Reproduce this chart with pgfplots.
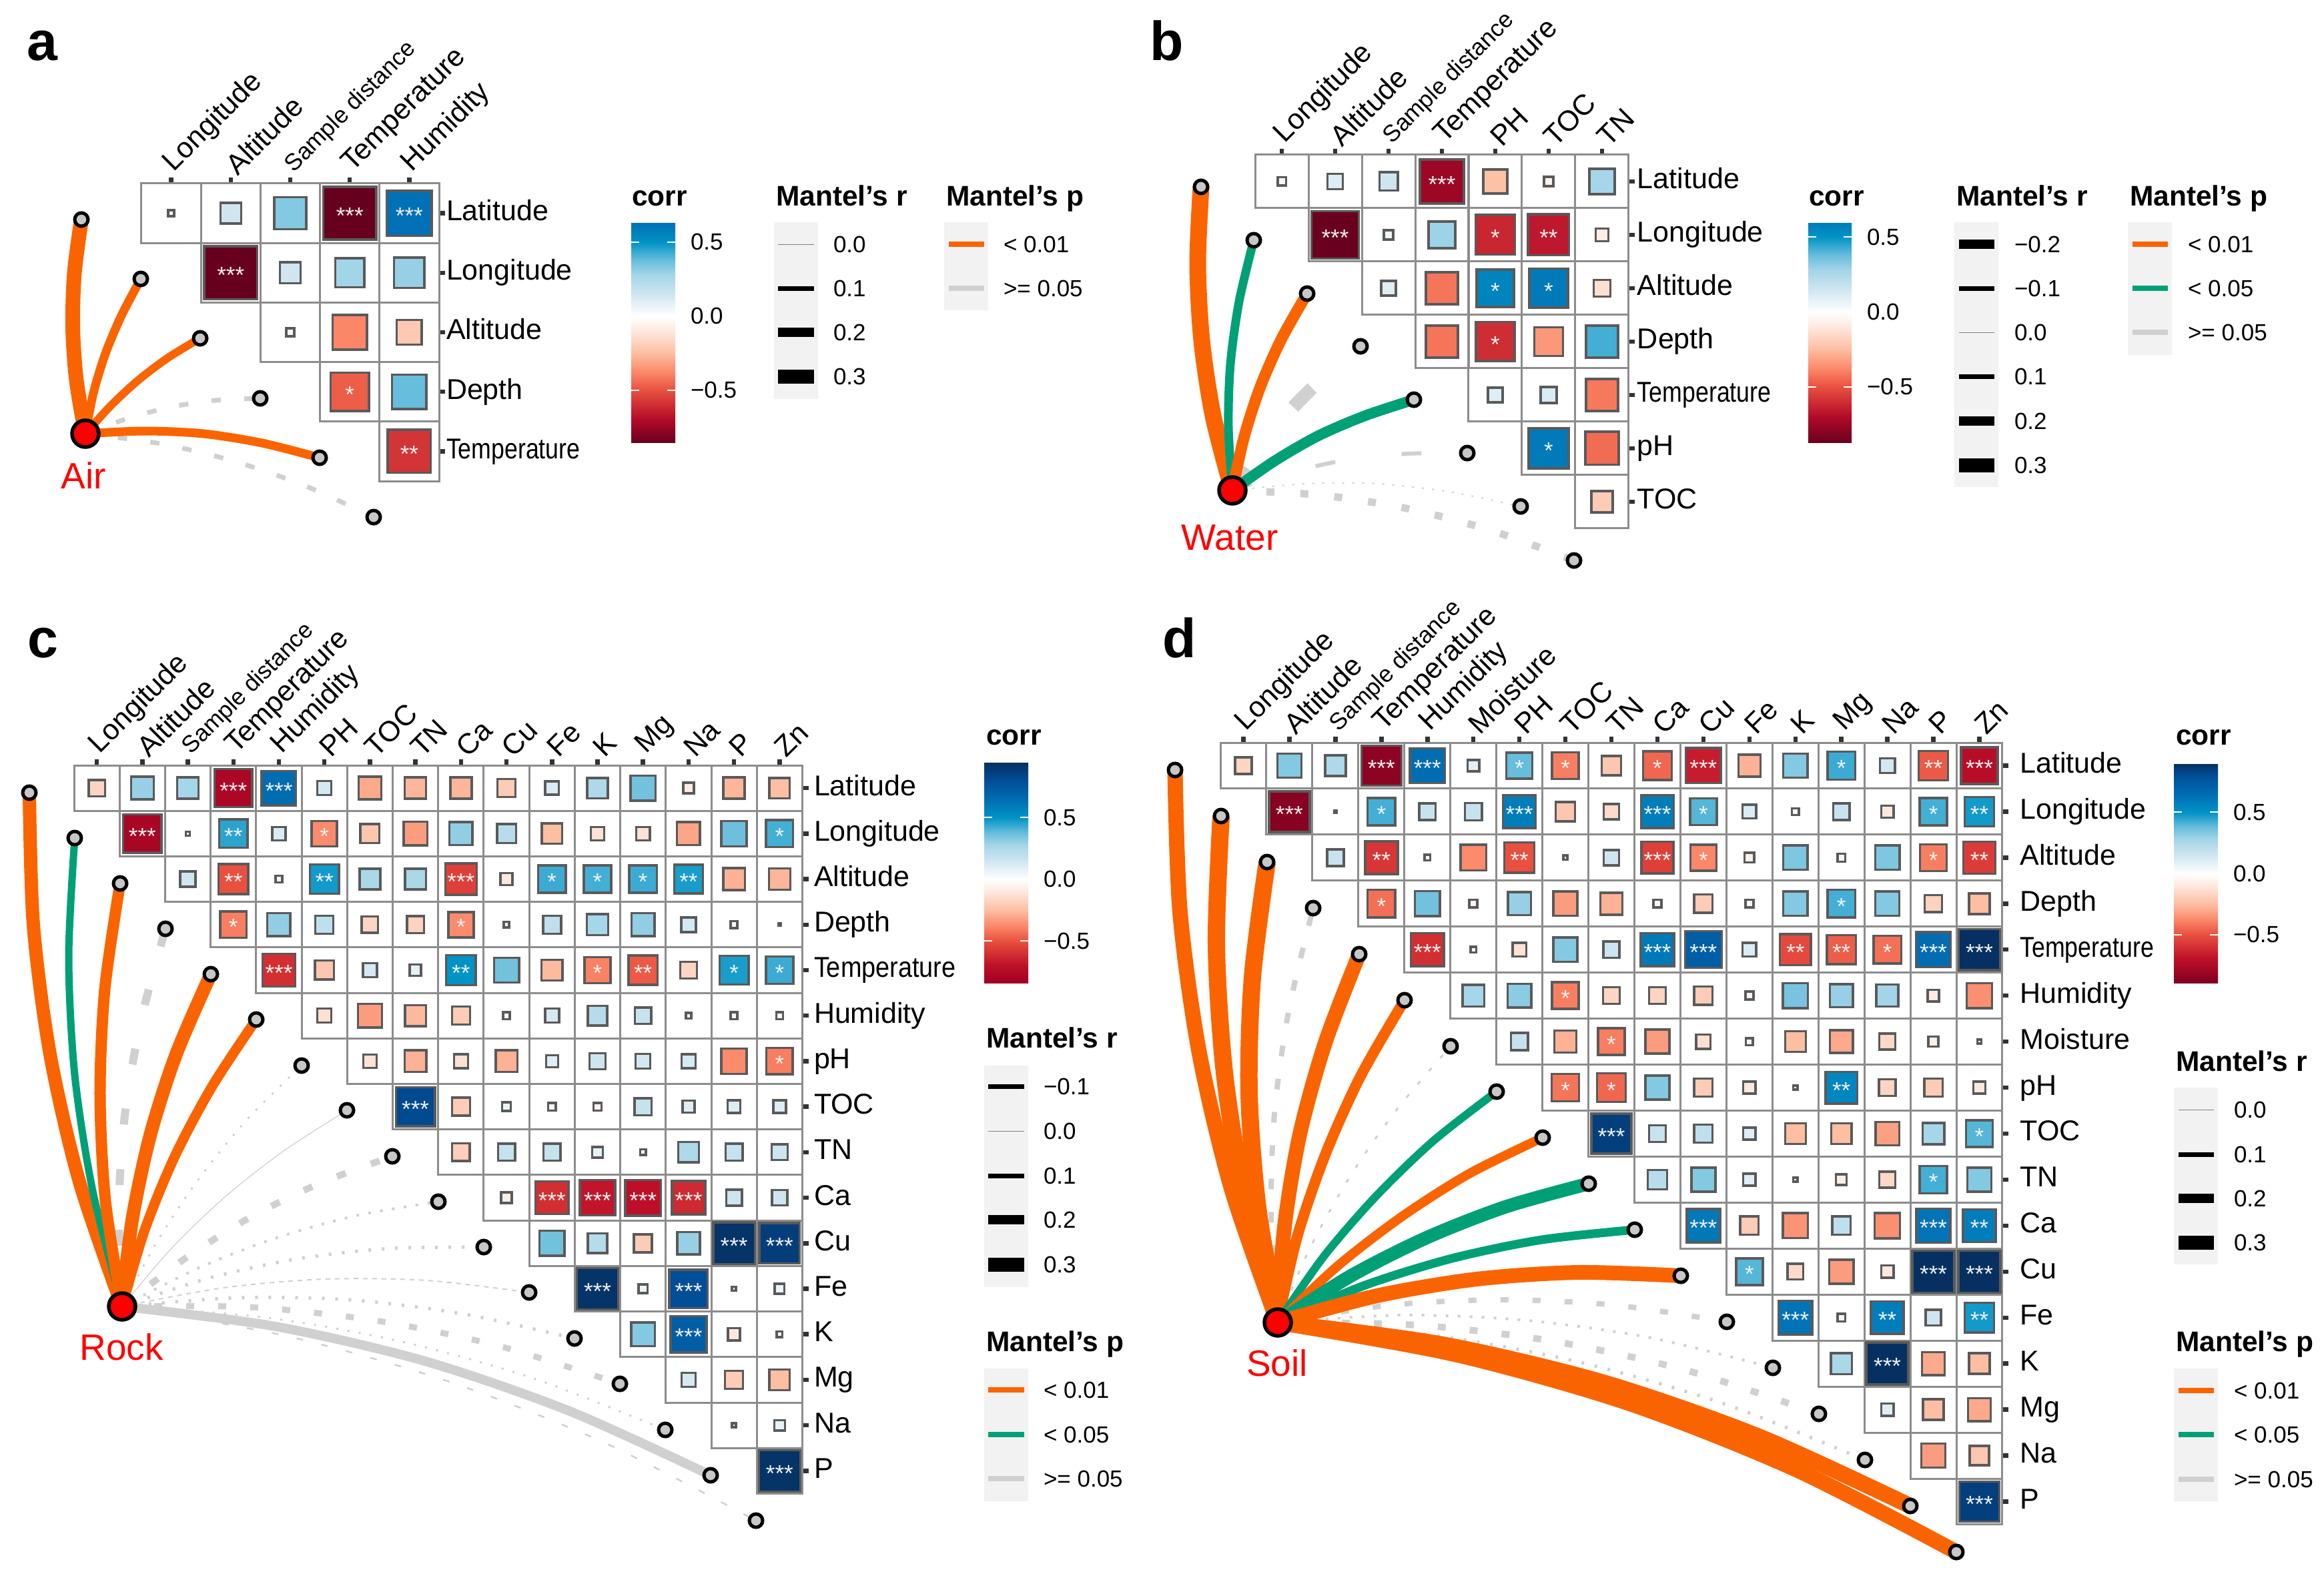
\documentclass[border=0pt]{standalone}
\usepackage{fontspec}
\setmainfont[Ligatures=ResetAll]{Liberation Sans}
\usepackage{pgfplots}
\usepackage{pgfplotstable}
\pgfplotsset{compat=1.18}
% picture scale: 1 reference pixel = 0.2pt
\definecolor{lorange}{RGB}{250,100,0}
\definecolor{lgreen}{RGB}{0,160,119}
\definecolor{lgray}{RGB}{208,208,208}
\definecolor{keybg}{RGB}{242,242,242}
\definecolor{cellgrid}{RGB}{140,140,140}
\definecolor{cellline}{RGB}{90,90,90}
\newcommand{\lfont}{\fontsize{7}{8}\selectfont}
\newcommand{\tfont}{\fontsize{8.5}{10}\selectfont\bfseries}

% colour scales, position = (r+1)*100
\pgfplotsset{
  colormap={mapA}{rgb255(14.4pt)=(103,0,31); rgb255(30pt)=(178,10,40); rgb255(50pt)=(233,80,63); rgb255(62pt)=(251,135,104); rgb255(75pt)=(253,190,162); rgb255(90pt)=(254,232,222); rgb255(100pt)=(255,255,255); rgb255(115pt)=(207,230,241); rgb255(128pt)=(163,213,232); rgb255(138pt)=(102,189,220); rgb255(150pt)=(0,147,198); rgb255(163.5pt)=(0,112,181)},
  colormap={mapB}{rgb255(12.6pt)=(103,0,31); rgb255(30pt)=(178,10,40); rgb255(50pt)=(233,80,63); rgb255(62pt)=(251,135,104); rgb255(75pt)=(253,190,162); rgb255(90pt)=(254,232,222); rgb255(100pt)=(255,255,255); rgb255(115pt)=(207,230,241); rgb255(128pt)=(163,213,232); rgb255(138pt)=(102,189,220); rgb255(150pt)=(0,147,198); rgb255(159.8pt)=(0,122,185)},
  colormap={mapC}{rgb255(15.6pt)=(160,0,36); rgb255(30pt)=(190,15,40); rgb255(50pt)=(233,80,63); rgb255(62pt)=(251,135,104); rgb255(75pt)=(253,190,162); rgb255(90pt)=(254,232,222); rgb255(100pt)=(255,255,255); rgb255(115pt)=(207,230,241); rgb255(128pt)=(163,213,232); rgb255(138pt)=(102,189,220); rgb255(150pt)=(0,147,198); rgb255(163.5pt)=(0,112,181); rgb255(180pt)=(0,78,152); rgb255(194.8pt)=(5,48,97)},
  colormap={mapD}{rgb255(10pt)=(125,0,32); rgb255(30pt)=(190,15,40); rgb255(50pt)=(233,80,63); rgb255(62pt)=(251,135,104); rgb255(75pt)=(253,190,162); rgb255(90pt)=(254,232,222); rgb255(100pt)=(255,255,255); rgb255(115pt)=(207,230,241); rgb255(128pt)=(163,213,232); rgb255(138pt)=(102,189,220); rgb255(150pt)=(0,147,198); rgb255(163.5pt)=(0,112,181); rgb255(180pt)=(0,78,152); rgb255(190pt)=(5,48,97)},
  corrpanel/.style={
    scale only axis, clip=false, anchor=north west,
    y dir=reverse, enlargelimits=false,
    axis line style={draw=none},
    xtick pos=upper, xticklabel pos=upper,
    ytick pos=right, yticklabel pos=right,
    tick align=outside, major tick length=1.8pt,
    tick style={color=black!80, line width=1.3pt},
    x tick label style={rotate=45, anchor=south west, font=\fontsize{8.6}{10}\selectfont, inner sep=0.5pt, xshift=1pt, yshift=-2pt},
    y tick label style={anchor=west, font=\fontsize{8.6}{10}\selectfont, inner sep=0.5pt, text height=6.2pt, text depth=1.8pt, xshift=#1pt},
    colorbar right,
    colorbar shift/.style={},
    unbounded coords=discard,
  },
  barstyle/.style n args={4}{
    at={(parent axis.north west)}, anchor=north west,
    xshift=#1pt, yshift=#2pt, width=#3pt, height=#4pt,
    axis line style={draw=none},
    ytick={-0.5,0,0.5}, yticklabels={−0.5,0.0,0.5},
    ytick pos=both, yticklabel pos=right, tick align=inside,
    major tick length=2.4pt,
    tick style={draw=white, line width=0.35pt},
    y tick label style={font=\lfont, anchor=west, inner sep=0pt, xshift=4.4pt},
  },
  cellgridplot/.style={only marks, mark=square, mark size=#1pt, mark options={draw=cellgrid, line width=0.6pt}},
  cellplot/.style={
    only marks, scatter, scatter src=explicit, mark=square*,
    scatter/use mapped color={draw=cellline, fill=mapped color},
    mark options={line width=0.7pt},
    visualization depends on={0.1*max(sqrt(abs(\thisrow{v}))*#1-3.5,1)\as\sz},
    scatter/@pre marker code/.append style={/tikz/mark size=\sz},
  },
  starplot/.style={only marks, mark=text, text mark={#1}, text mark as node=true,
    text mark style={font=\fontsize{7}{8}\selectfont, text=black!6, inner sep=0pt, yshift=-0.8pt}},
  endpts/.style={only marks, mark=*, mark size=2pt, mark options={fill=black!22, draw=black, line width=1pt}},
  hubpt/.style={only marks, mark=*, mark size=4pt, mark options={fill=red, draw=black, line width=1.1pt}},
}
\newcommand{\stars}[1]{%
  \addplot[starplot={*}] table[x=c,y expr={\thisrow{n}==1 ? \thisrow{r} : nan}] {#1};
  \addplot[starplot={**}] table[x=c,y expr={\thisrow{n}==2 ? \thisrow{r} : nan}] {#1};
  \addplot[starplot={***}] table[x=c,y expr={\thisrow{n}==3 ? \thisrow{r} : nan}] {#1};
}
\newcommand{\link}[4]{\addplot[smooth,color=#1,line width=#2pt,#3] coordinates {#4};}
\newcommand{\keyline}[5]{\addplot[color=#5,line width=#4pt] coordinates {(#1,#3)(#2,#3)};}
\newcommand{\keylab}[3]{\node[anchor=west,font=\lfont,inner sep=0pt] at (#1,#2) {#3};}
\newcommand{\ttl}[3]{\node[anchor=base west,font=\tfont,inner sep=0pt] at (#1,#2) {#3};}
\newcommand{\pnl}[3]{\node[anchor=base,font=\fontsize{16.5}{18}\selectfont\bfseries,inner sep=0pt] at (#1,#2) {#3};}
\newcommand{\hubname}[3]{\node[anchor=base,text=red,font=\fontsize{11}{12}\selectfont,inner sep=0pt] at (#1,#2) {#3};}

\pgfplotstableread[row sep=\\]{c r v n\\
0 0 0.02 0\\ 1 0 0.15 0\\ 2 0 0.33 0\\ 3 0 -0.86 3\\ 4 0 0.63 3\\
1 1 -0.86 3\\ 2 1 0.15 0\\ 3 1 0.28 0\\ 4 1 0.3 0\\
2 2 0.03 0\\ 3 2 -0.38 0\\ 4 2 -0.21 0\\
3 3 -0.47 1\\ 4 3 0.38 0\\
4 4 -0.58 2\\
}\tabA

\pgfplotstableread[row sep=\\]{c r v n\\
0 0 0.04 0\\ 1 0 0.11 0\\ 2 0 0.15 0\\ 3 0 -0.75 3\\ 4 0 -0.24 0\\ 5 0 -0.05 0\\ 6 0 0.27 0\\
1 1 -0.87 3\\ 2 1 0.05 0\\ 3 1 0.29 0\\ 4 1 -0.62 1\\ 5 1 -0.66 2\\ 6 1 -0.08 0\\
2 2 0.1 0\\ 3 2 -0.42 0\\ 4 2 0.56 1\\ 5 2 0.6 1\\ 6 2 -0.13 0\\
3 3 -0.42 0\\ 4 3 -0.6 1\\ 5 3 -0.34 0\\ 6 3 0.42 0\\
4 4 0.1 0\\ 5 4 0.12 0\\ 6 4 -0.41 0\\
5 5 0.63 1\\ 6 5 -0.44 0\\
6 6 -0.2 0\\
}\tabB

\pgfplotstableread[row sep=\\]{c r v n\\
0 0 -0.17 0\\ 1 0 0.3 0\\ 2 0 0.27 0\\ 3 0 -0.78 3\\ 4 0 0.65 3\\ 5 0 0.13 0\\ 6 0 -0.3 0\\ 7 0 -0.27 0\\ 8 0 -0.27 0\\ 9 0 -0.2 0\\ 10 0 0.12 0\\ 11 0 0.25 0\\ 12 0 0.36 0\\ 13 0 -0.08 0\\ 14 0 -0.27 0\\ 15 0 -0.25 0\\
1 1 -0.8 3\\ 2 1 0.02 0\\ 3 1 0.45 2\\ 4 1 0.12 0\\ 5 1 -0.37 1\\ 6 1 -0.22 0\\ 7 1 -0.33 0\\ 8 1 0.31 0\\ 9 1 0.22 0\\ 10 1 -0.25 0\\ 11 1 -0.12 0\\ 12 1 -0.12 0\\ 13 1 -0.31 0\\ 14 1 0.37 0\\ 15 1 0.42 1\\
2 2 0.15 0\\ 3 2 -0.5 2\\ 4 2 -0.04 0\\ 5 2 0.48 2\\ 6 2 0.26 0\\ 7 2 0.26 0\\ 8 2 -0.55 3\\ 9 2 -0.1 0\\ 10 2 0.43 1\\ 11 2 0.42 1\\ 12 2 0.43 1\\ 13 2 0.47 2\\ 14 2 -0.28 0\\ 15 2 -0.27 0\\
3 3 -0.4 1\\ 4 3 0.31 0\\ 5 3 0.2 0\\ 6 3 -0.17 0\\ 7 3 -0.18 0\\ 8 3 -0.37 1\\ 9 3 0.03 0\\ 10 3 0.2 0\\ 11 3 0.27 0\\ 12 3 0.31 0\\ 13 3 0.14 0\\ 14 3 0.04 0\\ 15 3 0.01 0\\
4 4 -0.6 3\\ 5 4 -0.22 0\\ 6 4 0.13 0\\ 7 4 0.09 0\\ 8 4 0.5 2\\ 9 4 0.36 0\\ 10 4 -0.26 0\\ 11 4 -0.39 1\\ 12 4 -0.48 2\\ 13 4 -0.17 0\\ 14 4 0.47 1\\ 15 4 0.43 1\\
5 5 -0.13 0\\ 6 5 -0.33 0\\ 7 5 -0.26 0\\ 8 5 -0.2 0\\ 9 5 0.04 0\\ 10 5 0.13 0\\ 11 5 0.23 0\\ 12 5 0.17 0\\ 13 5 0.03 0\\ 14 5 0.04 0\\ 15 5 0.04 0\\
6 6 -0.12 0\\ 7 6 -0.28 0\\ 8 6 -0.13 0\\ 9 6 -0.28 0\\ 10 6 0.1 0\\ 11 6 0.16 0\\ 12 6 0.14 0\\ 13 6 0.13 0\\ 14 6 -0.37 0\\ 15 6 -0.4 1\\
7 7 0.82 3\\ 8 7 -0.2 0\\ 9 7 0.06 0\\ 10 7 -0.05 0\\ 11 7 -0.05 0\\ 12 7 0.18 0\\ 13 7 0.1 0\\ 14 7 0.11 0\\ 15 7 0.11 0\\
8 8 -0.19 0\\ 9 8 0.18 0\\ 10 8 0.18 0\\ 11 8 0.08 0\\ 12 8 -0.03 0\\ 13 8 0.25 0\\ 14 8 0.18 0\\ 15 8 0.16 0\\
9 9 -0.08 0\\ 10 9 -0.6 3\\ 11 9 -0.68 3\\ 12 9 -0.7 3\\ 13 9 -0.62 3\\ 14 9 0.16 0\\ 15 9 0.15 0\\
10 10 0.36 0\\ 11 10 0.23 0\\ 12 10 -0.2 0\\ 13 10 0.3 0\\ 14 10 0.93 3\\ 15 10 0.88 3\\
11 11 0.93 3\\ 12 11 0.06 0\\ 13 11 0.8 3\\ 14 11 0.02 0\\ 15 11 0.07 0\\
12 12 0.33 0\\ 13 12 0.72 3\\ 14 12 -0.1 0\\ 15 12 0.03 0\\
13 13 0.13 0\\ 14 13 -0.2 0\\ 15 13 -0.25 0\\
14 14 0.02 0\\ 15 14 0.08 0\\
15 15 0.93 3\\
}\tabC

\pgfplotstableread[row sep=\\]{c r v n\\
0 0 -0.17 0\\ 1 0 0.33 0\\ 2 0 0.25 0\\ 3 0 -0.85 3\\ 4 0 0.65 3\\ 5 0 0.09 0\\ 6 0 0.38 1\\ 7 0 -0.4 1\\ 8 0 -0.22 0\\ 9 0 -0.45 1\\ 10 0 -0.66 3\\ 11 0 -0.28 0\\ 12 0 0.33 0\\ 13 0 0.43 1\\ 14 0 0.14 0\\ 15 0 -0.48 2\\ 16 0 -0.72 3\\
1 1 -0.87 3\\ 2 1 0.01 0\\ 3 1 0.42 1\\ 4 1 0.17 0\\ 5 1 0.18 0\\ 6 1 0.58 3\\ 7 1 -0.22 0\\ 8 1 -0.15 0\\ 9 1 0.58 3\\ 10 1 0.4 1\\ 11 1 0.12 0\\ 12 1 -0.04 0\\ 13 1 0.17 0\\ 14 1 -0.1 0\\ 15 1 0.42 1\\ 16 1 0.48 2\\
2 2 0.17 0\\ 3 2 -0.58 2\\ 4 2 -0.03 0\\ 5 2 -0.37 0\\ 6 2 -0.5 2\\ 7 2 -0.02 0\\ 8 2 0.15 0\\ 9 2 -0.55 3\\ 10 2 -0.38 1\\ 11 2 -0.07 0\\ 12 2 0.34 0\\ 13 2 0.05 0\\ 14 2 0.34 0\\ 15 2 -0.4 1\\ 16 2 -0.56 2\\
3 3 -0.43 1\\ 4 3 0.36 0\\ 5 3 -0.05 0\\ 6 3 0.3 0\\ 7 3 -0.33 0\\ 8 3 -0.28 0\\ 9 3 -0.05 0\\ 10 3 -0.2 0\\ 11 3 0.05 0\\ 12 3 0.33 0\\ 13 3 0.42 1\\ 14 3 0.33 0\\ 15 3 -0.18 0\\ 16 3 -0.25 0\\
4 4 -0.6 3\\ 5 4 0.03 0\\ 6 4 -0.12 0\\ 7 4 0.33 0\\ 8 4 0.16 0\\ 9 4 0.6 3\\ 10 4 0.72 3\\ 11 4 0.12 0\\ 12 4 -0.52 2\\ 13 4 -0.47 2\\ 14 4 -0.43 1\\ 15 4 0.65 3\\ 16 4 0.9 3\\
5 5 0.27 0\\ 6 5 0.32 0\\ 7 5 -0.4 1\\ 8 5 -0.17 0\\ 9 5 -0.17 0\\ 10 5 -0.2 0\\ 11 5 -0.05 0\\ 12 5 0.35 0\\ 13 5 0.3 0\\ 14 5 0.28 0\\ 15 5 -0.09 0\\ 16 5 -0.36 0\\
6 6 0.18 0\\ 7 6 -0.28 0\\ 8 6 -0.4 1\\ 9 6 -0.33 0\\ 10 6 -0.13 0\\ 11 6 -0.04 0\\ 12 6 -0.25 0\\ 13 6 -0.3 0\\ 14 6 -0.16 0\\ 15 6 -0.07 0\\ 16 6 -0.02 0\\
7 7 -0.42 1\\ 8 7 -0.45 1\\ 9 7 0.33 0\\ 10 7 -0.2 0\\ 11 7 -0.1 0\\ 12 7 -0.02 0\\ 13 7 0.55 2\\ 14 7 -0.17 0\\ 15 7 -0.2 0\\ 16 7 -0.1 0\\
8 8 0.85 3\\ 9 8 0.17 0\\ 10 8 0.2 0\\ 11 8 0.1 0\\ 12 8 -0.25 0\\ 13 8 -0.25 0\\ 14 8 -0.32 0\\ 15 8 0.27 0\\ 16 8 0.4 1\\
9 9 0.22 0\\ 10 9 0.33 0\\ 11 9 0.1 0\\ 12 9 0.02 0\\ 13 9 -0.08 0\\ 14 9 -0.16 0\\ 15 9 0.42 1\\ 16 9 0.33 0\\
10 10 0.6 3\\ 11 10 -0.2 0\\ 12 10 -0.35 0\\ 13 10 0.2 0\\ 14 10 -0.36 0\\ 15 10 0.62 3\\ 16 10 0.58 2\\
11 11 0.4 1\\ 12 11 -0.15 0\\ 13 11 -0.33 0\\ 14 11 -0.1 0\\ 15 11 0.93 3\\ 16 11 0.93 3\\
12 12 0.62 3\\ 13 12 -0.05 0\\ 14 12 0.58 2\\ 15 12 0.15 0\\ 16 12 0.48 2\\
13 13 0.26 0\\ 14 13 0.93 3\\ 15 13 -0.3 0\\ 16 13 -0.25 0\\
14 14 0.1 0\\ 15 14 -0.25 0\\ 16 14 -0.3 0\\
15 15 -0.33 0\\ 16 15 -0.22 0\\
16 16 0.85 3\\
}\tabD

\begin{document}
\begin{tikzpicture}
\useasboundingbox (0,0) rectangle (696.6pt,471.2pt);
% page-wide axis in reference pixels: link curves, nodes, keys and captions
\begin{axis}[at={(0,0)}, anchor=south west, scale only axis, width=696.6pt, height=471.2pt,
  xmin=0, xmax=3483, ymin=0, ymax=2356, y dir=reverse, hide axis, clip=false]
\pnl{63}{90}{a}
\pnl{1749}{90}{b}
\pnl{64}{985}{c}
\pnl{1768}{985}{d}

% panel a
\link{lgray}{1.4}{dash pattern=on 2.8pt off 7pt}{(128,650)(192,627)(256,610)(323,600)(390,597)}
\link{lgray}{1.4}{dash pattern=on 2.8pt off 7pt}{(128,650)(241,665)(350,691)(457,728)(560,775)}
\link{lorange}{4.4}{}{(128,650)(114.5,570)(109,490)(111.5,409)(122,329)}
\link{lorange}{2.6}{}{(128,650)(140,589)(158,530)(182,473)(211,418)}
\link{lorange}{2.4}{}{(128,650)(166,608)(207,570)(252,536)(300,507)}
\link{lorange}{2.6}{}{(128,650)(217,646)(305,650)(393,664)(479,686)}
\addplot[endpts] coordinates {(122,329)(211,418)(300,507)(390,597)(479,686)(560,775)};
\addplot[hubpt] coordinates {(128,650)};
\hubname{125}{732}{Air}

% panel b
\link{lgray}{4}{dash pattern=on 8pt off 23pt}{(1847,735)(1887,674)(1932,617)(1983,566)(2039,519)}
\link{lgray}{1.2}{dash pattern=on 6pt off 20pt}{(1847,735)(1933,708)(2020,689)(2109,680)(2199,679)}
\link{lgray}{0.4}{dash pattern=on 0.6pt off 2.4pt}{(1847,735)(1956,725)(2064,725)(2172,737)(2279,759)}
\link{lgray}{2.2}{dash pattern=on 2.4pt off 7.8pt}{(1847,735)(1979,742)(2108,762)(2235,795)(2359,840)}
\link{lorange}{5}{}{(1847,735)(1818,623)(1801,510)(1795,395)(1800,280)}
\link{lgreen}{2.6}{}{(1847,735)(1841,640)(1844,546)(1857,452)(1879,360)}
\link{lorange}{3.4}{}{(1847,735)(1864,657)(1888,582)(1920,509)(1959,440)}
\link{lgreen}{3.2}{}{(1847,735)(1910,691)(1976,653)(2046,623)(2119,599)}
\addplot[endpts] coordinates {(1800,280)(1879,360)(1959,440)(2039,519)(2119,599)(2199,679)(2279,759)(2359,840)};
\addplot[hubpt] coordinates {(1847,735)};
\hubname{1843}{824}{Water}

% panel c
\link{lgray}{2.4}{dash pattern=on 4.8pt off 13.4pt}{(183,1958)(178,1814)(187,1672)(211,1531)(248,1392)}
\link{lgray}{0.6}{dash pattern=on 0.6pt off 2.8pt}{(183,1958)(237,1858)(300,1764)(371,1677)(452,1597)}
\link{lgray}{0.25}{}{(183,1958)(256,1872)(337,1794)(425,1725)(520,1664)}
\link{lgray}{2}{dash pattern=on 2.8pt off 8pt}{(183,1958)(276,1887)(374,1825)(478,1774)(588,1733)}
\link{lgray}{0.8}{dash pattern=on 0.8pt off 2.8pt}{(183,1958)(296,1901)(412,1856)(533,1822)(657,1801)}
\link{lgray}{1}{dash pattern=on 0.8pt off 3.2pt}{(183,1958)(315,1915)(449.5,1886)(586,1871)(725,1869)}
\link{lgray}{0.4}{dash pattern=on 1.4pt off 1.4pt}{(183,1958)(335,1930)(487,1917)(640,1919)(793,1937)}
\link{lgray}{1}{dash pattern=on 0.8pt off 3.2pt}{(183,1958)(354,1945)(524,1948)(693,1969)(861,2006)}
\link{lgray}{1.8}{dash pattern=on 2.4pt off 7.2pt}{(183,1958)(374,1959)(562,1979)(747,2017)(929,2074)}
\link{lgray}{0.6}{dash pattern=on 0.6pt off 2.8pt}{(183,1958)(393.5,1974)(599,2010)(800.5,2066)(997,2143)}
\link{lgray}{2.8}{}{(183,1958)(413,1988)(637,2040)(854,2115)(1065,2211)}
\link{lgray}{0.5}{dash pattern=on 2pt off 5.6pt}{(183,1958)(432.5,2003)(674,2071)(907.5,2163)(1133,2279)}
\link{lorange}{4}{}{(183,1958)(119,1771)(75,1580)(50,1386)(44,1188)}
\link{lgreen}{2.2}{}{(183,1958)(139,1785)(112,1611)(103,1434)(112,1256)}
\link{lorange}{3.4}{}{(183,1958)(158,1800)(150,1641)(157,1483)(180,1324)}
\link{lorange}{4}{}{(183,1958)(198,1829)(225,1702)(264,1580)(316,1460)}
\link{lorange}{3}{}{(183,1958)(217,1843)(262,1733)(318,1628)(384,1528)}
\addplot[endpts] coordinates {(44,1188)(112,1256)(180,1324)(248,1392)(316,1460)(384,1528)(452,1597)(520,1664)(588,1733)(657,1801)(725,1869)(793,1937)(861,2006)(929,2074)(997,2143)(1065,2211)(1133,2279)};
\addplot[hubpt] coordinates {(183,1958)};
\hubname{182}{2038}{Rock}

% panel d
\link{lgray}{1.6}{dash pattern=on 3.2pt off 6.8pt}{(1915,1982)(1905,1825)(1910,1669)(1931.5,1514)(1968,1361)}
\link{lgray}{0.6}{dash pattern=on 1.2pt off 4pt}{(1915,1982)(1964,1869)(2024,1762)(2094,1662)(2174,1568)}
\link{lgray}{1.6}{dash pattern=on 2.4pt off 7.2pt}{(1915,1982)(2083,1956)(2251.5,1948)(2420,1956)(2588,1981)}
\link{lgray}{0.8}{dash pattern=on 0.8pt off 2.8pt}{(1915,1982)(2103,1971)(2289,1979)(2474,2005)(2657,2050)}
\link{lgray}{2}{dash pattern=on 2.4pt off 7.2pt}{(1915,1982)(2123,1986)(2327,2010)(2528.5,2054)(2726,2119)}
\link{lgray}{1}{dash pattern=on 0.8pt off 3.2pt}{(1915,1982)(2143,2000.5)(2365,2041)(2583,2103.5)(2795,2188)}
\link{lorange}{4.6}{}{(1915,1982)(1845.5,1781)(1797,1576)(1768.5,1367)(1761,1154)}
\link{lorange}{5.2}{}{(1915,1982)(1865,1795)(1835,1607)(1823,1416)(1830,1223)}
\link{lorange}{5.2}{}{(1915,1982)(1885,1810)(1872,1638)(1877,1465)(1899,1292)}
\link{lorange}{4.4}{}{(1915,1982)(1925,1839)(1948,1700)(1986,1563)(2037,1430)}
\link{lorange}{3.2}{}{(1915,1982)(1944,1854)(1986,1731)(2039,1613)(2105,1499)}
\link{lgreen}{2.4}{}{(1915,1982)(1984,1883)(2062,1793)(2148,1710)(2243,1636)}
\link{lorange}{2.8}{}{(1915,1982)(2004,1898)(2100,1824)(2202,1759)(2312,1705)}
\link{lgreen}{4}{}{(1915,1982)(2024,1912.5)(2138,1855)(2257,1808.5)(2381,1774)}
\link{lgreen}{2.6}{}{(1915,1982)(2043.5,1927)(2176,1886)(2311,1858)(2450,1843)}
\link{lorange}{4.4}{}{(1915,1982)(2063.5,1942)(2213.5,1917)(2365,1907)(2519,1912)}
\link{lorange}{4.8}{}{(1915,1982)(2162,2015)(2403,2072)(2636,2153)(2863,2257)}
\link{lorange}{4.6}{}{(1915,1982)(2182,2030)(2441,2103)(2691,2202)(2932,2326)}
\addplot[endpts] coordinates {(1761,1154)(1830,1223)(1899,1292)(1968,1361)(2037,1430)(2105,1499)(2174,1568)(2243,1636)(2312,1705)(2381,1774)(2450,1843)(2519,1912)(2588,1981)(2657,2050)(2726,2119)(2795,2188)(2863,2257)(2932,2326)};
\addplot[hubpt] coordinates {(1915,1982)};
\hubname{1914}{2062}{Soil}

% keys, panel a
\ttl{946}{308}{corr}
\ttl{1162}{308}{Mantel's r}
\fill[keybg] (1160,333) rectangle (1226,598);
\keyline{1166}{1220}{366}{0.2}{black!50}
\keyline{1166}{1220}{432}{1.4}{black}
\keyline{1166}{1220}{498}{2.8}{black}
\keyline{1166}{1220}{564}{4.2}{black}
\keylab{1248}{366}{0.0}\keylab{1248}{432}{0.1}\keylab{1248}{498}{0.2}\keylab{1248}{564}{0.3}
\ttl{1417}{308}{Mantel's p}
\fill[keybg] (1415,333) rectangle (1481,465);
\keyline{1422}{1475}{366}{1.6}{lorange}
\keyline{1422}{1475}{432}{1.6}{lgray}
\keylab{1503}{366}{< 0.01}\keylab{1503}{432}{>= 0.05}

% keys, panel b
\ttl{2710}{308}{corr}
\ttl{2931}{308}{Mantel's r}
\fill[keybg] (2929,333) rectangle (2995,730);
\keyline{2936}{2989}{366}{2.8}{black}
\keyline{2936}{2989}{432}{1.4}{black}
\keyline{2936}{2989}{498}{0.2}{black!50}
\keyline{2936}{2989}{564}{1.4}{black}
\keyline{2936}{2989}{631}{2.8}{black}
\keyline{2936}{2989}{697}{4.2}{black}
\keylab{3018}{366}{−0.2}\keylab{3018}{432}{−0.1}\keylab{3018}{498}{0.0}\keylab{3018}{564}{0.1}\keylab{3018}{631}{0.2}\keylab{3018}{697}{0.3}
\ttl{3191}{308}{Mantel's p}
\fill[keybg] (3189,333) rectangle (3255,532);
\keyline{3196}{3249}{366}{1.6}{lorange}
\keyline{3196}{3249}{432}{1.6}{lgreen}
\keyline{3196}{3249}{498}{1.6}{lgray}
\keylab{3278}{366}{< 0.01}\keylab{3278}{432}{< 0.05}\keylab{3278}{498}{>= 0.05}

% keys, panel c
\ttl{1477}{1116}{corr}
\ttl{1477}{1570}{Mantel's r}
\fill[keybg] (1475,1597) rectangle (1541,1929);
\keyline{1481}{1535}{1628}{1.4}{black}
\keyline{1481}{1535}{1695}{0.2}{black!50}
\keyline{1481}{1535}{1762}{1.4}{black}
\keyline{1481}{1535}{1828}{2.8}{black}
\keyline{1481}{1535}{1895}{4.2}{black}
\keylab{1563}{1628}{−0.1}\keylab{1563}{1695}{0.0}\keylab{1563}{1762}{0.1}\keylab{1563}{1828}{0.2}\keylab{1563}{1895}{0.3}
\ttl{1477}{2025}{Mantel's p}
\fill[keybg] (1475,2051) rectangle (1541,2250);
\keyline{1481}{1535}{2083}{1.6}{lorange}
\keyline{1481}{1535}{2150}{1.6}{lgreen}
\keyline{1481}{1535}{2216}{1.6}{lgray}
\keylab{1563}{2083}{< 0.01}\keylab{1563}{2150}{< 0.05}\keylab{1563}{2216}{>= 0.05}

% keys, panel d
\ttl{3260}{1116}{corr}
\ttl{3260}{1605}{Mantel's r}
\fill[keybg] (3258,1630) rectangle (3324,1895);
\keyline{3265}{3318}{1663}{0.2}{black!50}
\keyline{3265}{3318}{1730}{1.4}{black}
\keyline{3265}{3318}{1796}{2.8}{black}
\keyline{3265}{3318}{1862}{4.2}{black}
\keylab{3347}{1663}{0.0}\keylab{3347}{1730}{0.1}\keylab{3347}{1796}{0.2}\keylab{3347}{1862}{0.3}
\ttl{3260}{2025}{Mantel's p}
\fill[keybg] (3258,2051) rectangle (3324,2250);
\keyline{3265}{3318}{2084}{1.6}{lorange}
\keyline{3265}{3318}{2150}{1.6}{lgreen}
\keyline{3265}{3318}{2217}{1.6}{lgray}
\keylab{3347}{2084}{< 0.01}\keylab{3347}{2150}{< 0.05}\keylab{3347}{2217}{>= 0.05}
\end{axis}

% panel a correlogram
\begin{axis}[corrpanel=-0.3, at={(42.4pt,416.2pt)}, width=89.2pt, height=89.2pt,
  xmin=-0.5, xmax=4.5, ymin=-0.5, ymax=4.5,
  xtick={0,...,4}, ytick={0,...,4},
  xticklabels={Longitude,Altitude,\scalebox{0.82}{Sample distance},Temperature,Humidity},
  yticklabels={Latitude,Longitude,Altitude,Depth,\scalebox{0.83}[1]{Temperature}},
  colormap name=mapA, point meta min=-0.856, point meta max=0.635,
  colorbar style={barstyle={146.8}{-11.6}{13.2}{66.2}}]
\addplot[cellgridplot=8.93] table[x=c,y=r] {\tabA};
\addplot[cellplot=89.3] table[x=c,y=r,meta=v] {\tabA};
\stars{\tabA}
\end{axis}

% panel b correlogram
\begin{axis}[corrpanel=0.1, at={(376.2pt,424.8pt)}, width=112pt, height=112pt,
  xmin=-0.5, xmax=6.5, ymin=-0.5, ymax=6.5,
  xtick={0,...,6}, ytick={0,...,6},
  xticklabels={Longitude,Altitude,\scalebox{0.82}{Sample distance},Temperature,PH,TOC,TN},
  yticklabels={Latitude,Longitude,Altitude,Depth,\scalebox{0.83}[1]{Temperature},pH,TOC},
  colormap name=mapB, point meta min=-0.874, point meta max=0.598,
  colorbar style={barstyle={165.8}{-20.2}{13}{66.2}}]
\addplot[cellgridplot=8] table[x=c,y=r] {\tabB};
\addplot[cellplot=80] table[x=c,y=r,meta=v] {\tabB};
\stars{\tabB}
\end{axis}

% panel c correlogram
\begin{axis}[corrpanel=1, at={(22.2pt,241.8pt)}, width=218.3pt, height=218.3pt,
  xmin=-0.5, xmax=15.5, ymin=-0.5, ymax=15.5,
  xtick={0,...,15}, ytick={0,...,15},
  xticklabels={Longitude,Altitude,\scalebox{0.82}{Sample distance},Temperature,Humidity,PH,TOC,TN,Ca,Cu,Fe,K,Mg,Na,P,Zn},
  yticklabels={Latitude,Longitude,Altitude,Depth,\scalebox{0.88}[1]{Temperature},Humidity,pH,TOC,TN,Ca,Cu,Fe,K,Mg,Na,P},
  colormap name=mapC, point meta min=-0.844, point meta max=0.948,
  colorbar style={barstyle={272.8}{0.9}{13.2}{66.3}}]
\addplot[cellgridplot=6.82] table[x=c,y=r] {\tabC};
\addplot[cellplot=68.2] table[x=c,y=r,meta=v] {\tabC};
\stars{\tabC}
\end{axis}

% panel d correlogram
\begin{axis}[corrpanel=2.8, at={(365.8pt,248.6pt)}, width=234.4pt, height=234.4pt,
  xmin=-0.5, xmax=16.5, ymin=-0.5, ymax=16.5,
  xtick={0,...,16}, ytick={0,...,16},
  xticklabels={Longitude,Altitude,\scalebox{0.82}{Sample distance},Temperature,Humidity,Moisture,PH,TOC,TN,Ca,Cu,Fe,K,Mg,Na,P,Zn},
  yticklabels={Latitude,Longitude,Altitude,Depth,\scalebox{0.83}[1]{Temperature},Humidity,Moisture,pH,TOC,TN,Ca,Cu,Fe,K,Mg,Na,P},
  colormap name=mapD, point meta min=-0.9, point meta max=0.9,
  colorbar style={barstyle={285.8}{-6.2}{13.2}{66}}]
\addplot[cellgridplot=6.89] table[x=c,y=r] {\tabD};
\addplot[cellplot=68.9] table[x=c,y=r,meta=v] {\tabD};
\stars{\tabD}
\end{axis}
\end{tikzpicture}
\end{document}
